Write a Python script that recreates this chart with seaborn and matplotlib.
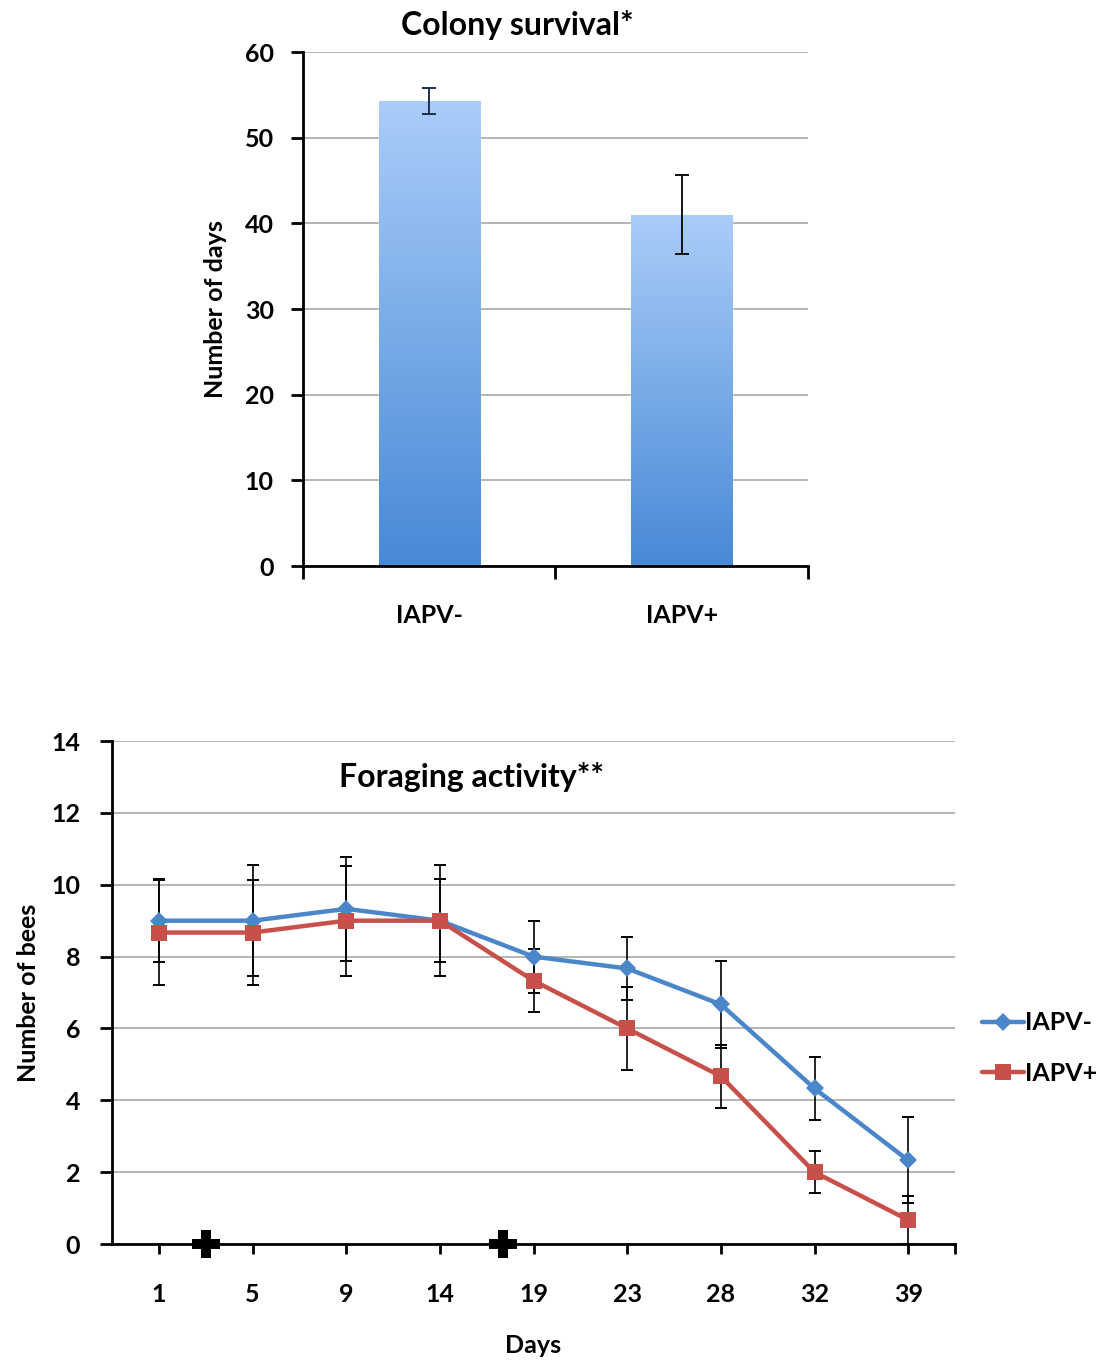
import numpy as np
import pandas as pd
import matplotlib
matplotlib.use("Agg")
import matplotlib.pyplot as plt
import seaborn as sns
from matplotlib.colors import LinearSegmentedColormap

# Colony survival (mean days ± error)
groups = ["IAPV-", "IAPV+"]
survival_days = [54.3, 41.0]
survival_err = [1.5, 4.6]

# Foraging activity over time
days = ["1", "5", "9", "14", "19", "23", "28", "32", "39"]
bees_neg = [9.0, 9.0, 9.33, 9.0, 8.0, 7.67, 6.67, 4.33, 2.33]
bees_neg_err = [1.15, 1.55, 1.45, 1.15, 1.0, 0.88, 1.2, 0.88, 1.2]
bees_pos = [8.67, 8.67, 9.0, 9.0, 7.33, 6.0, 4.67, 2.0, 0.67]
bees_pos_err = [1.45, 1.45, 1.53, 1.55, 0.88, 1.15, 0.88, 0.58, 0.67]
# treatment events, positioned on the category axis
treatment_pos = [0.5, 3.67]

BLUE = "#4a86c8"
RED = "#c8504b"
GRID = "#a0a0a0"
FS = 18

sns.set_theme(style="white")
plt.rcParams["font.family"] = ["Lato", "DejaVu Sans"]
plt.rcParams["font.weight"] = "bold"
plt.rcParams["axes.labelweight"] = "bold"
plt.rcParams["axes.titleweight"] = "bold"
plt.rcParams["text.color"] = "black"
plt.rcParams["axes.labelcolor"] = "black"
plt.rcParams["xtick.color"] = "black"
plt.rcParams["ytick.color"] = "black"

fig = plt.figure(figsize=(11.18, 13.63), dpi=100)
ax1 = fig.add_axes([0.271, 0.5847, 0.4517, 0.3771])
ax2 = fig.add_axes([0.1002, 0.0873, 0.754, 0.369])

# ---------- Colony survival ----------
df_surv = pd.DataFrame({"group": groups, "days": survival_days})
sns.barplot(data=df_surv, x="group", y="days", color="#4b8ed9", width=0.4,
            errorbar=None, saturation=1, ax=ax1, zorder=2)

cmap = LinearSegmentedColormap.from_list("barfade", ["#4889d6", "#aacdf9"])
grad = np.linspace(0, 1, 256).reshape(-1, 1)
for p in ax1.patches:
    x0, y0, w, h = p.get_x(), p.get_y(), p.get_width(), p.get_height()
    im = ax1.imshow(grad, cmap=cmap, origin="lower", aspect="auto",
                    extent=(x0, x0 + w, y0, y0 + h), zorder=2.1)
    im.set_clip_path(p)

for i, (v, e, c) in enumerate(zip(survival_days, survival_err, ["#1b2f50", "#111111"])):
    ax1.errorbar(i, v, yerr=e, fmt="none", ecolor=c, elinewidth=1.4,
                 capsize=5, capthick=1.4, zorder=5)

ax1.set_xlim(-0.5, 1.5)
ax1.set_ylim(0, 60)
ax1.set_yticks(range(0, 61, 10))
ax1.yaxis.grid(True, color=GRID, lw=1.1)
ax1.set_axisbelow(True)
for s in ["top", "right"]:
    ax1.spines[s].set_visible(False)
for s in ["left", "bottom"]:
    ax1.spines[s].set_color("black")
    ax1.spines[s].set_linewidth(2)
ax1.tick_params(axis="y", left=True, direction="out", length=9, width=2,
                pad=12, labelsize=FS)
ax1.tick_params(axis="x", which="major", bottom=True, length=0, pad=27, labelsize=FS)
ax1.set_xticks([-0.5, 0.5, 1.5], minor=True)
ax1.tick_params(axis="x", which="minor", bottom=True, direction="out",
                length=9, width=2)
ax1.set_xlabel("")
ax1.set_ylabel("Number of days", fontsize=FS, labelpad=13)
ax1.set_title("Colony survival*", fontsize=23, x=0.424, pad=12)

# ---------- Foraging activity ----------
pos = list(range(len(days)))
df_long = pd.DataFrame({
    "pos": pos * 2,
    "bees": bees_neg + bees_pos,
    "group": ["IAPV-"] * len(days) + ["IAPV+"] * len(days),
})
ax2.errorbar(pos, bees_neg, yerr=bees_neg_err, fmt="none", ecolor="black",
             elinewidth=1.2, capsize=4, capthick=1.4, zorder=2)
ax2.errorbar(pos, bees_pos, yerr=bees_pos_err, fmt="none", ecolor="black",
             elinewidth=1.2, capsize=4, capthick=1.4, zorder=2)
sns.lineplot(data=df_long, x="pos", y="bees", hue="group", style="group",
             palette={"IAPV-": BLUE, "IAPV+": RED},
             markers={"IAPV-": "D", "IAPV+": "s"}, dashes=False,
             lw=3.2, ax=ax2, legend=False, zorder=3)
series_lines = [ln for ln in ax2.get_lines() if ln.get_marker() in ("D", "s")]
for ln in series_lines:
    ln.set_markersize(9 if ln.get_marker() == "D" else 11.5)
    ln.set_markeredgewidth(0)

ax2.scatter(treatment_pos, [0] * len(treatment_pos), marker="P", s=420,
            color="black", clip_on=False, zorder=6, linewidths=0)

ax2.set_xlim(-0.5, len(days) - 0.5)
ax2.set_ylim(0, 14)
ax2.set_yticks(range(0, 15, 2))
ax2.set_xticks(pos)
ax2.set_xticklabels(days)
ax2.set_xticks([len(days) - 0.5], minor=True)
ax2.yaxis.grid(True, color=GRID, lw=1.1)
ax2.set_axisbelow(True)
for s in ["top", "right"]:
    ax2.spines[s].set_visible(False)
for s in ["left", "bottom"]:
    ax2.spines[s].set_color("black")
    ax2.spines[s].set_linewidth(2)
ax2.tick_params(axis="y", left=True, direction="out", length=9, width=2,
                pad=14, labelsize=FS)
ax2.tick_params(axis="x", which="both", bottom=True, direction="out",
                length=7, width=2, pad=21, labelsize=FS)
ax2.set_xlabel("Days", fontsize=FS, labelpad=20)
ax2.set_ylabel("Number of bees", fontsize=FS, labelpad=8)
ax2.text(0.426, 0.928, "Foraging activity**", transform=ax2.transAxes,
         ha="center", va="center", fontsize=23)

fig.legend(series_lines[:2], groups, loc="center left",
           bbox_to_anchor=(0.878, 0.231), frameon=False, fontsize=FS,
           handlelength=1.7, handletextpad=0.05, labelspacing=1.1,
           borderaxespad=0, borderpad=0)

fig.savefig("out.png", dpi=100, facecolor="white")
